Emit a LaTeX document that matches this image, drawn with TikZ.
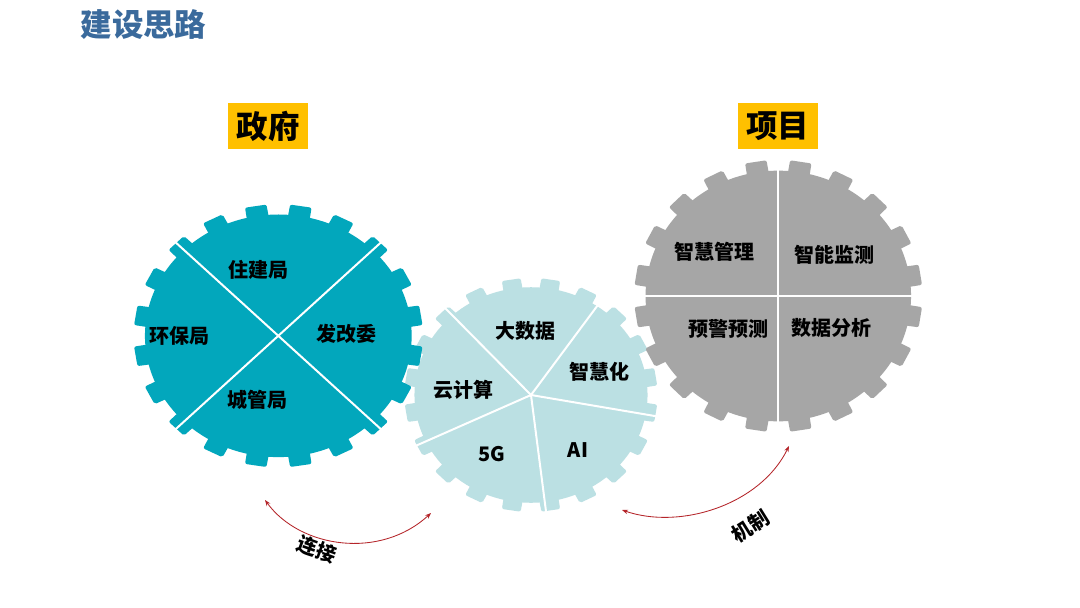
\documentclass[tikz,border=0pt]{standalone}
\usepackage{fontspec}
\setmainfont{Noto Sans CJK SC}
\usetikzlibrary{arrows.meta}
\definecolor{tealgear}{HTML}{02A7BC}
\definecolor{palegear}{HTML}{BBE0E3}
\definecolor{graygear}{HTML}{A6A6A6}
\definecolor{titleblue}{HTML}{3A6A9C}
\definecolor{tagyellow}{HTML}{FFC000}
\definecolor{linkred}{HTML}{B5252A}
\tikzset{
  lbl/.style={font=\fontsize{20}{22}\selectfont\bfseries,text=black,inner sep=0pt},
  tag/.style={fill=tagyellow,minimum width=80pt,minimum height=46pt,inner sep=0pt,font=\fontsize{31.5}{33}\selectfont\bfseries,text=black},
  slit/.style={draw=white,line width=2pt},
  link/.style={draw=linkred,line width=0.85pt,{Stealth[length=6pt,width=4.5pt]}-{Stealth[length=6pt,width=4.5pt]}},
}
% #1 name, #2 cx, #3 cy, #4 rx, #5 ry, #6 colour, #7 body radius, #8 slit angles
\newcommand{\gearshape}[8]{%
  \coordinate (#1) at (#2,#3);
  \begin{scope}[shift={(#2,#3)},x=#4pt,y=-#5pt]
    \fill[#6] (0,0) circle[radius=#7];
    \foreach \ang in {9,27,...,351}{
      \fill[#6,rounded corners=2pt]
        ({\ang-4.9}:{#7-0.03}) -- ({\ang-4.3}:1.005) -- ({\ang+4.3}:1.005) -- ({\ang+4.9}:{#7-0.03}) -- cycle;
    }
    \foreach \ang in {#8}{
      \coordinate (#1end) at (\ang:1.03);
      \draw[slit] (0,0) -- (#1end);
    }
  \end{scope}}
\begin{document}
\begin{tikzpicture}[x=1pt,y=-1pt]
\useasboundingbox (0,0) rectangle (1080,608);
\fill[white] (0,0) rectangle (1080,608);

\node[font=\fontsize{31.5}{33}\selectfont\bfseries,text=titleblue,inner sep=0pt] (title) at (143.5,24.5) {建设思路};
\node[tag] (gov) at (268,126) {政府};
\node[tag] (proj) at (778,126) {\hspace*{-0.5pt}项目};

\gearshape{gearB}{531}{395}{126}{116.5}{palegear}{0.925}{-55.5,10.4,83.2,154.5,227.6}
\gearshape{gearA}{278.3}{335.8}{144}{131}{tealgear}{0.926}{45,135,225,315}
\gearshape{gearC}{778.3}{296}{143.5}{135.5}{graygear}{0.925}{0,90,180,270}

\node[lbl] (a1) at (258,270) {住建局};
\node[lbl] (a2) at (179,336) {环保局};
\node[lbl] (a3) at (346.5,334) {发改委};
\node[lbl] (a4) at (257,400) {城管局};

\node[lbl] (b1) at (525,331) {大数据};
\node[lbl] (b2) at (599.5,372) {智慧化};
\node[lbl] (b3) at (463,390) {云计算};
\node[lbl] (b4) at (491.5,454) {5G};
\node[lbl] (b5) at (578,450) {AI};

\node[lbl] (c1) at (714,252) {智慧管理};
\node[lbl] (c2) at (834,255) {智能监测};
\node[lbl] (c3) at (728.5,329) {预警预测};
\node[lbl] (c4) at (831,328) {数据分析};

\coordinate (l1s) at (265,500);
\coordinate (l1e) at (431,513);
\coordinate (l2s) at (622,510);
\coordinate (l2e) at (789,446);
\draw[link] (l1s) .. controls (300,548) and (380,560) .. (l1e);
\draw[link] (l2s) .. controls (680,530) and (760,505) .. (l2e);

\node[lbl,rotate=-20] (t1) at (317,549) {连接};
\node[lbl,rotate=32] (t2) at (750,526) {机制};
\end{tikzpicture}
\end{document}
